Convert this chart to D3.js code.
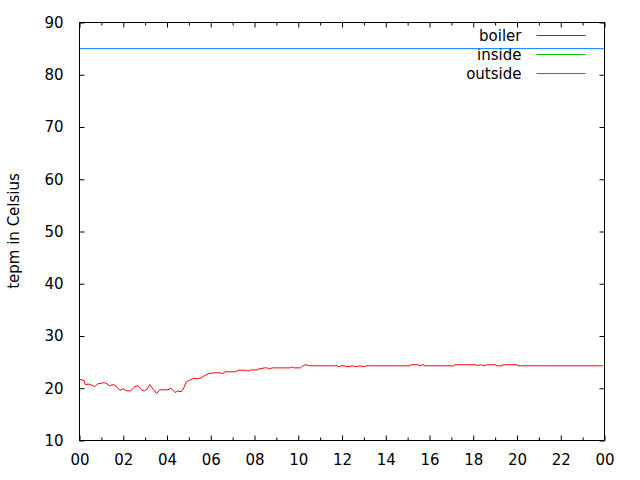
<!DOCTYPE html>
<html><head><meta charset="utf-8">
<script src="https://cdn.jsdelivr.net/npm/d3@7"></script>
<style>body{margin:0;background:#fff;} svg{display:block;} text{font-family:"DejaVu Sans",sans-serif;font-size:15px;fill:#000;}</style>
</head><body><svg id="c" width="640" height="480"></svg>
<script>
// hours since midnight
const boilerHours = [0,0.2,0.27,0.43,0.55,0.69,0.84,1.11,1.2,1.37,1.54,1.68,1.84,2.0,2.15,2.33,2.53,2.68,2.83,2.97,3.09,3.21,3.37,3.53,3.66,4.04,4.19,4.37,4.49,4.66,4.77,4.88,5.04,5.22,5.38,5.56,5.73,5.91,6.14,6.44,6.52,6.67,7.13,7.28,7.63,7.71,7.82,8.12,8.2,8.47,8.58,8.65,8.81,9.65,9.72,9.8,10.1,10.18,10.3,10.44,10.48,11.78,11.85,12.0,12.31,12.46,12.62,12.81,13.0,13.12,15.13,15.16,15.47,15.56,15.67,15.82,17.11,17.16,18.15,18.18,18.33,18.48,18.64,19.02,19.05,19.32,19.35,20.01,20.04,23.94];
const boilerTemps = [21.7,21.5,20.7,20.8,20.6,20.3,20.85,21.05,21.0,20.5,20.7,20.4,19.6,19.9,19.5,19.5,20.3,20.5,19.7,19.5,19.8,20.7,19.8,19.0,19.7,19.7,20.0,19.2,19.45,19.35,20.1,21.2,21.55,21.9,21.8,22.0,22.45,22.8,22.95,22.95,22.8,23.15,23.15,23.45,23.45,23.3,23.5,23.5,23.7,23.9,23.9,23.7,23.9,23.9,24.1,23.9,23.9,24.2,24.45,24.45,24.3,24.3,24.1,24.35,24.1,24.3,24.1,24.3,24.1,24.3,24.3,24.5,24.5,24.3,24.5,24.3,24.3,24.5,24.5,24.3,24.5,24.3,24.5,24.5,24.3,24.3,24.5,24.5,24.3,24.3];
const insideHours = [];
const insideTemps = [];
const outsideHours = [0,24];
const outsideTemps = [85,85];
const seriesNames = ["boiler","inside","outside"];
const seriesColors = ["#ff0000","#00c000","#0080ff"];
const yTicks = [10,20,30,40,50,60,70,80,90];
const yLabel = "tepm in Celsius";

const base = new Date(2000,0,1,0,0,0);
const toDate = h => new Date(base.getTime() + h*3600000);
const mk = (hs, vs) => hs.map((h,i)=>({t:toDate(h), v:vs[i]}));
const series = [mk(boilerHours,boilerTemps), mk(insideHours,insideTemps), mk(outsideHours,outsideTemps)];

const L=79, R=604, T=22, B=440;
const svg = d3.select("#c");
const x = d3.scaleTime().domain([base, toDate(24)]).range([L,R]);
const y = d3.scaleLinear().domain([10,90]).range([B,T]);

const g = svg.append("g").attr("transform","translate(0.5,0.5)");
const major = d3.timeHour.every(2).range(base, toDate(24.01));
const minor = d3.timeHour.every(1).range(base, toDate(24.01)).filter(d=>d.getHours()%2===1);

// axes
const fmt = d3.timeFormat("%H");
const axBottom = g.append("g").attr("transform",`translate(0,${B})`)
  .call(d3.axisBottom(x).tickValues(major).tickFormat(fmt).tickSize(-5).tickPadding(14));
g.append("g").attr("transform",`translate(0,${B})`)
  .call(d3.axisBottom(x).tickValues(minor).tickFormat("").tickSize(-3));
g.append("g").attr("transform",`translate(0,${T})`)
  .call(d3.axisTop(x).tickValues(major).tickFormat("").tickSize(-5));
g.append("g").attr("transform",`translate(0,${T})`)
  .call(d3.axisTop(x).tickValues(minor).tickFormat("").tickSize(-3));
g.append("g").attr("transform",`translate(${L},0)`)
  .call(d3.axisLeft(y).tickValues(yTicks).tickFormat(d3.format("d")).tickSize(-5).tickPadding(16));
g.append("g").attr("transform",`translate(${R},0)`)
  .call(d3.axisRight(y).tickValues(yTicks).tickFormat("").tickSize(-5));
g.selectAll(".domain").remove();
g.selectAll(".tick line").attr("stroke","#000");
g.selectAll(".tick text").attr("font-family","DejaVu Sans, sans-serif").attr("font-size",15).attr("fill","#000");
axBottom.selectAll(".tick text").attr("dy","0.71em");

// legend
const keyRows = [35,54,73];
seriesNames.forEach((n,i)=>{
  g.append("text").attr("x",521).attr("y",keyRows[i]).attr("dy","0.35em").attr("text-anchor","end").text(n);
  g.append("line").attr("x1",536).attr("x2",585).attr("y1",keyRows[i]).attr("y2",keyRows[i]).attr("stroke",seriesColors[i]);
});

// lines
const line = d3.line().x(d=>x(d.t)).y(d=>y(d.v));
series.forEach((s,i)=>{
  if(s.length) g.append("path").datum(s).attr("d",line).attr("fill","none").attr("stroke",seriesColors[i]).attr("stroke-width",1);
});

// border
g.append("rect").attr("x",L).attr("y",T).attr("width",R-L).attr("height",B-T).attr("fill","none").attr("stroke","#000");

// y title
svg.append("text").attr("transform",`translate(19,${(T+B)/2}) rotate(-90)`).attr("text-anchor","middle").text(yLabel);
</script></body></html>
